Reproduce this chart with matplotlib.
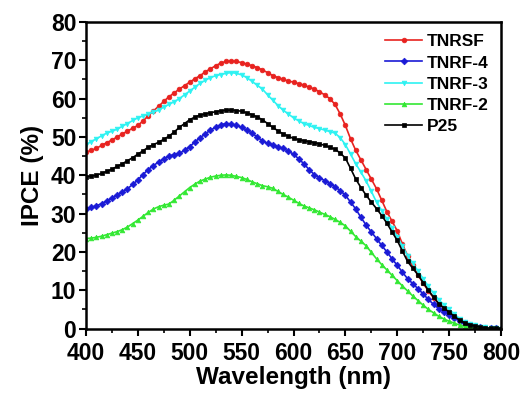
import numpy as np
import matplotlib
matplotlib.use("Agg")
import matplotlib.pyplot as plt
from matplotlib.ticker import MultipleLocator

wavelength = list(range(400, 801, 5))

tnrsf = [46.0, 46.5, 47.0, 47.8, 48.5, 49.2, 50.0, 50.8, 51.5, 52.3, 53.0, 54.2, 55.5, 56.8, 58.0, 59.3, 60.5,
         61.5, 62.5, 63.4, 64.3, 65.2, 66.0, 67.0, 67.8, 68.6, 69.3, 69.7, 69.8, 69.7, 69.4, 69.0, 68.6, 68.1,
         67.5, 66.8, 66.0, 65.5, 65.0, 64.6, 64.3, 63.9, 63.5, 63.0, 62.5, 61.8, 61.0, 60.0, 58.5, 56.0, 53.0,
         49.5, 46.5, 44.0, 41.5, 39.0, 36.5, 33.5, 30.5, 28.0, 25.5, 22.0, 19.0, 16.5, 14.0, 11.8, 9.8, 8.0,
         6.5, 5.2, 4.0, 2.9, 2.0, 1.4, 1.0, 0.6, 0.4, 0.2, 0.1, 0.05, 0.0]

tnrf4 = [31.3, 31.6, 32.0, 32.6, 33.3, 34.0, 34.8, 35.6, 36.5, 37.6, 38.8, 40.2, 41.5, 42.5, 43.5, 44.3, 45.0,
         45.4, 45.7, 46.5, 47.5, 48.7, 49.8, 50.8, 51.8, 52.5, 53.2, 53.5, 53.4, 53.0, 52.5, 51.8, 51.0, 50.0,
         49.0, 48.3, 47.8, 47.4, 47.0, 46.3, 45.5, 44.3, 43.0, 41.5, 40.2, 39.4, 38.6, 37.8, 37.0, 36.0, 34.8,
         33.0, 31.2, 29.0, 27.0, 25.2, 23.5, 21.7, 20.0, 18.2, 16.5, 14.7, 13.0, 11.7, 10.4, 9.0, 7.6, 6.3,
         5.2, 4.3, 3.5, 2.7, 2.0, 1.4, 1.0, 0.7, 0.4, 0.2, 0.1, 0.05, 0.0]

tnrf3 = [48.0, 48.8, 49.5, 50.3, 51.0, 51.5, 52.0, 52.8, 53.5, 54.3, 55.0, 55.5, 56.0, 56.5, 57.0, 57.8, 58.5,
         59.2, 60.0, 61.0, 62.0, 63.0, 64.0, 64.8, 65.5, 66.0, 66.3, 66.6, 66.8, 66.6, 66.2, 65.5, 64.5, 63.5,
         62.5, 61.0, 59.6, 58.2, 57.0, 56.0, 55.0, 54.2, 53.5, 53.0, 52.5, 52.2, 51.8, 51.4, 51.0, 49.8, 48.0,
         45.5, 43.0, 40.8, 38.5, 35.8, 33.0, 30.8, 28.5, 26.2, 24.0, 21.5, 19.0, 17.0, 15.0, 13.0, 11.0, 9.2,
         7.5, 6.2, 5.0, 3.8, 2.6, 1.8, 1.2, 0.8, 0.5, 0.3, 0.1, 0.05, 0.0]

tnrf2 = [23.5, 23.6, 23.8, 24.1, 24.5, 24.9, 25.3, 25.8, 26.5, 27.4, 28.3, 29.3, 30.3, 31.2, 31.8, 32.2, 32.5,
         33.5, 34.6, 35.7, 36.8, 37.7, 38.5, 39.0, 39.5, 39.8, 40.0, 40.1, 40.0, 39.7, 39.4, 38.9, 38.3, 37.8,
         37.3, 37.0, 36.6, 35.8, 35.0, 34.3, 33.5, 32.7, 32.0, 31.5, 31.0, 30.4, 29.8, 29.2, 28.5, 27.7, 26.8,
         25.4, 24.0, 22.8, 21.6, 19.9, 18.2, 16.7, 15.3, 13.9, 12.5, 11.1, 9.8, 8.5, 7.3, 6.1, 5.0, 4.1,
         3.2, 2.5, 1.9, 1.4, 0.9, 0.6, 0.3, 0.2, 0.1, 0.05, 0.0, 0.0, 0.0]

p25 = [39.6, 39.8, 40.0, 40.5, 41.0, 41.6, 42.3, 43.0, 43.8, 44.6, 45.5, 46.4, 47.3, 48.0, 48.6, 49.4, 50.2,
       51.3, 52.5, 53.5, 54.5, 55.2, 55.7, 56.0, 56.3, 56.6, 56.8, 57.0, 57.0, 56.9, 56.7, 56.3, 55.8, 55.2,
       54.5, 53.5, 52.5, 51.6, 50.8, 50.2, 49.6, 49.3, 49.0, 48.8, 48.5, 48.2, 47.8, 47.3, 46.8, 45.8, 44.5,
       41.8, 39.0, 36.8, 34.8, 33.0, 31.3, 29.5, 27.5, 25.2, 23.0, 20.2, 17.5, 15.7, 14.0, 12.0, 10.0, 8.2,
       6.5, 5.4, 4.3, 3.2, 2.2, 1.5, 1.0, 0.7, 0.4, 0.2, 0.1, 0.05, 0.0]

labels = ["TNRSF", "TNRF-4", "TNRF-3", "TNRF-2", "P25"]
colors = ["#e8221f", "#1a1ad6", "#2ef2f2", "#33e833", "#000000"]
markers = ["o", "D", "v", "^", "s"]
series = [tnrsf, tnrf4, tnrf3, tnrf2, p25]

plt.rcParams["font.family"] = ["Liberation Sans", "DejaVu Sans"]
plt.rcParams["font.weight"] = "bold"

fig = plt.figure(figsize=(5.25, 3.93), dpi=100)
ax = fig.add_axes([0.1638, 0.1640, 0.7905, 0.7800])

for y, lab, c, m in zip(series, labels, colors, markers):
    ax.plot(wavelength, y, color=c, marker=m, markersize=3.4, linewidth=1.2, label=lab,
            markeredgewidth=0.5)

ax.set_xlim(400, 800)
ax.set_ylim(0, 80)
ax.xaxis.set_major_locator(MultipleLocator(50))
ax.xaxis.set_minor_locator(MultipleLocator(25))
ax.yaxis.set_major_locator(MultipleLocator(10))
ax.yaxis.set_minor_locator(MultipleLocator(5))
ax.tick_params(which="major", direction="out", length=5, width=1.5, labelsize=16.5, pad=2)
ax.tick_params(axis="x", which="major", pad=4.5)
ax.tick_params(which="minor", direction="out", length=3, width=1.2)
for lab in ax.get_xticklabels() + ax.get_yticklabels():
    lab.set_fontweight("bold")
for s in ax.spines.values():
    s.set_linewidth(1.8)

ax.set_xlabel("Wavelength (nm)", fontsize=17.5, fontweight="bold", labelpad=1)
ax.set_ylabel("IPCE (%)", fontsize=17.5, fontweight="bold", labelpad=5)

leg = ax.legend(loc="upper right", frameon=False, handlelength=2.1, numpoints=1,
                handletextpad=0.3, labelspacing=0.35, borderaxespad=0.3,
                prop={"weight": "bold", "size": 12.5})

fig.savefig("out.png", dpi=100)
